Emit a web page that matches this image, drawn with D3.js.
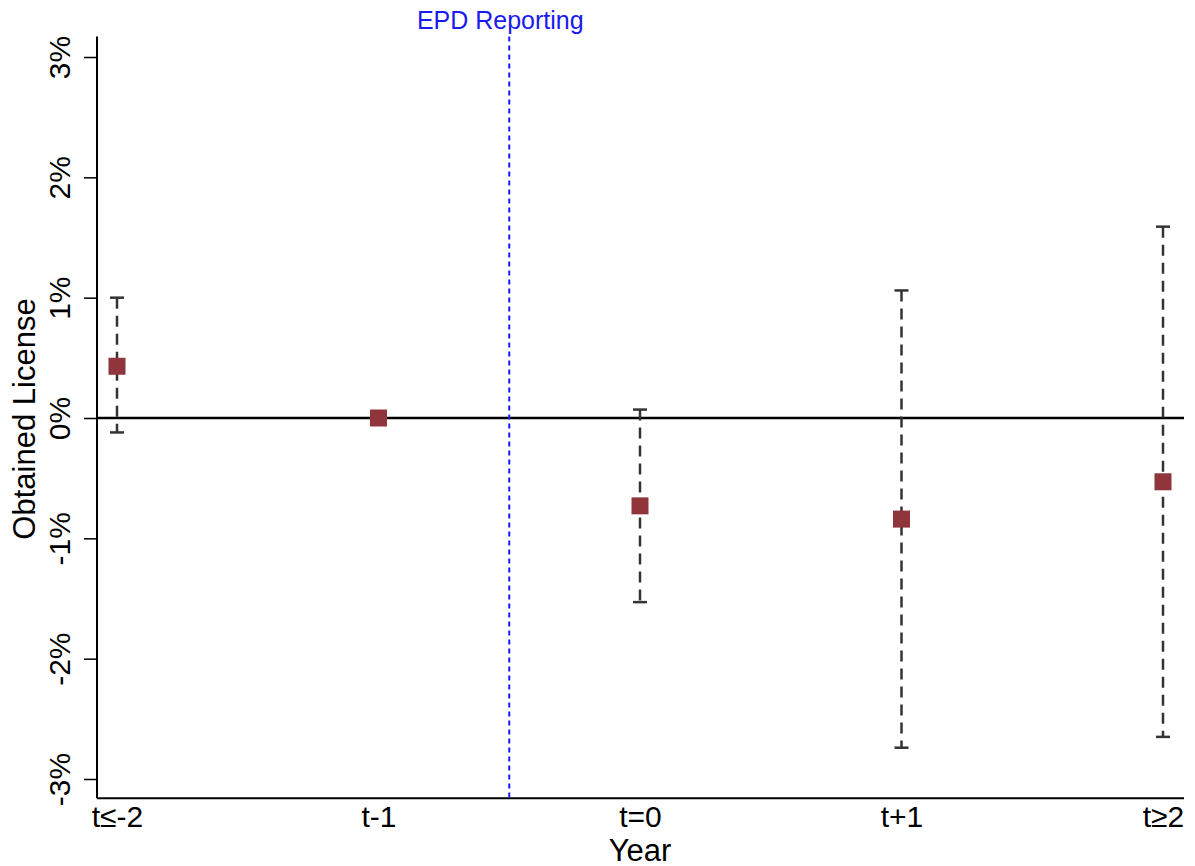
<!DOCTYPE html>
<html lang="en">
<head>
  <meta charset="UTF-8">
  <title>Obtained License by Year</title>
  <script src="https://cdnjs.cloudflare.com/ajax/libs/d3/7.8.5/d3.min.js"></script>
  <style>
    body { margin: 0; background: white; }
    svg { display: block; font-family: "Liberation Sans", Arial, sans-serif; }
  </style>
</head>
<body>
  <div id="chart"></div>
  <script>
    // event-study estimates, in percent
    const years = ["t≤-2", "t-1", "t=0", "t+1", "t≥2"];
    const estimates = [0.43, 0.0, -0.73, -0.84, -0.53];
    const ciLow = [-0.12, 0.0, -1.53, -2.74, -2.65];
    const ciHigh = [1.0, 0.0, 0.07, 1.06, 1.59];
    const yTicks = [-3, -2, -1, 0, 1, 2, 3];
    const eventPos = 1.5;

    const width = 1195, height = 866;

    const svg = d3.select("#chart").append("svg")
      .attr("width", width)
      .attr("height", height);

    const x = d3.scaleLinear().domain([0, 4]).range([117, 1163]);
    const y = d3.scaleLinear().domain([-3, 3]).range([779, 57]);

    const plotLeft = 97, plotRight = 1184;
    const yTop = y(3.17), yBottom = y(-3.16);

    // y axis
    const yAxis = svg.append("g")
      .attr("transform", `translate(${plotLeft},0)`)
      .call(d3.axisLeft(y).tickValues(yTicks).tickSize(13).tickFormat(d => d + "%"));
    yAxis.select(".domain").remove();
    yAxis.selectAll(".tick line").attr("stroke", "#000").attr("stroke-width", 1.5);
    yAxis.selectAll(".tick text")
      .attr("font-size", 30)
      .attr("fill", "#000")
      .attr("transform", "rotate(-90)")
      .attr("text-anchor", "middle")
      .attr("x", 0)
      .attr("y", -27)
      .attr("dy", 0);
    svg.append("line")
      .attr("x1", plotLeft).attr("x2", plotLeft)
      .attr("y1", yTop).attr("y2", yBottom)
      .attr("stroke", "#000").attr("stroke-width", 2);

    // x axis
    const xAxis = svg.append("g")
      .attr("transform", `translate(0,${yBottom})`)
      .call(d3.axisBottom(x).tickValues(d3.range(years.length)).tickSize(0).tickFormat(i => years[i]));
    xAxis.select(".domain").remove();
    xAxis.selectAll(".tick text")
      .attr("font-size", 30)
      .attr("fill", "#000")
      .attr("y", 29)
      .attr("dy", 0);
    svg.append("line")
      .attr("x1", plotLeft).attr("x2", plotRight)
      .attr("y1", yBottom).attr("y2", yBottom)
      .attr("stroke", "#000").attr("stroke-width", 2);

    // zero line
    svg.append("line")
      .attr("x1", plotLeft).attr("x2", plotRight)
      .attr("y1", y(0)).attr("y2", y(0))
      .attr("stroke", "#000").attr("stroke-width", 2.5);

    // event line
    svg.append("line")
      .attr("x1", x(eventPos)).attr("x2", x(eventPos))
      .attr("y1", yTop).attr("y2", yBottom)
      .attr("stroke", "#1a1aee").attr("stroke-width", 2)
      .attr("stroke-dasharray", "5,4");
    svg.append("text")
      .attr("x", x(eventPos) - 9)
      .attr("y", 29)
      .attr("text-anchor", "middle")
      .attr("font-size", 25)
      .attr("fill", "#1a1aee")
      .text("EPD Reporting");

    // titles
    svg.append("text")
      .attr("transform", `translate(35,${y(0) + 1}) rotate(-90)`)
      .attr("text-anchor", "middle")
      .attr("font-size", 31)
      .attr("fill", "#000")
      .text("Obtained License");
    svg.append("text")
      .attr("x", x(2))
      .attr("y", 861)
      .attr("text-anchor", "middle")
      .attr("font-size", 31)
      .attr("fill", "#000")
      .text("Year");

    // error bars
    const idx = d3.range(years.length).filter(i => ciHigh[i] !== ciLow[i]);
    const bars = svg.append("g").attr("stroke", "#333").attr("stroke-width", 2.5);
    bars.selectAll("line.ci").data(idx).join("line")
      .attr("class", "ci")
      .attr("x1", i => x(i)).attr("x2", i => x(i))
      .attr("y1", i => y(ciHigh[i])).attr("y2", i => y(ciLow[i]))
      .attr("stroke-dasharray", "11,7");
    bars.selectAll("line.cap-hi").data(idx).join("line")
      .attr("class", "cap-hi")
      .attr("x1", i => x(i) - 7).attr("x2", i => x(i) + 7)
      .attr("y1", i => y(ciHigh[i])).attr("y2", i => y(ciHigh[i]));
    bars.selectAll("line.cap-lo").data(idx).join("line")
      .attr("class", "cap-lo")
      .attr("x1", i => x(i) - 7).attr("x2", i => x(i) + 7)
      .attr("y1", i => y(ciLow[i])).attr("y2", i => y(ciLow[i]));

    // point estimates
    const sz = 17;
    svg.selectAll("rect.pt").data(estimates).join("rect")
      .attr("class", "pt")
      .attr("x", (d, i) => x(i) - sz / 2)
      .attr("y", d => y(d) - sz / 2)
      .attr("width", sz).attr("height", sz)
      .attr("fill", "#90353b");
  </script>
</body>
</html>
